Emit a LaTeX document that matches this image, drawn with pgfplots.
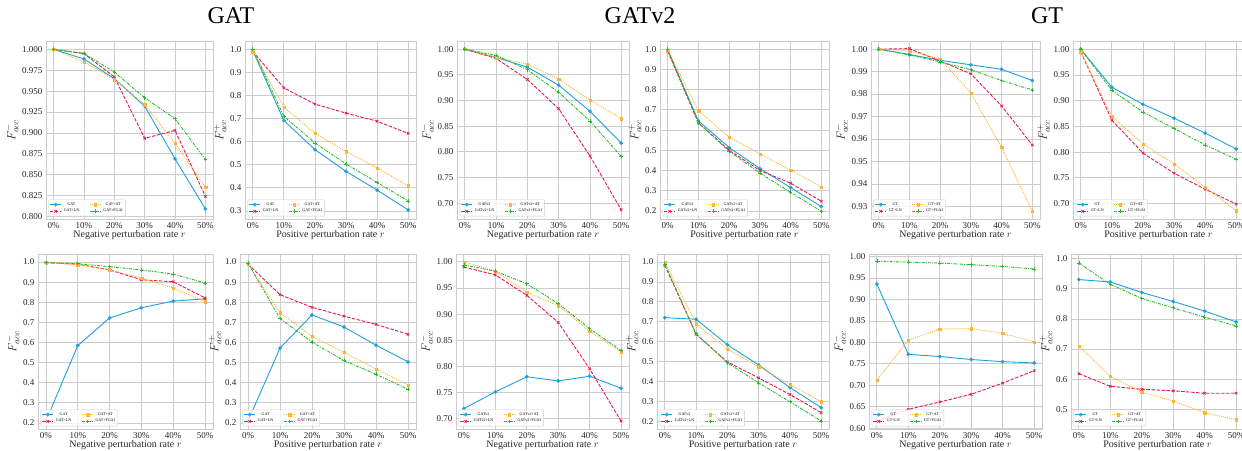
\documentclass[border=0pt]{standalone}
\usepackage{fontspec}
\setmainfont{Liberation Serif}
\usepackage{pgfplots}
\pgfplotsset{compat=1.18}
\definecolor{cblue}{HTML}{1F9FDF}
\definecolor{cred}{HTML}{E8184E}
\definecolor{corange}{HTML}{FDB432}
\definecolor{cgreen}{HTML}{2CB82C}
\definecolor{gridgray}{HTML}{CCCCCC}
\definecolor{labelgray}{HTML}{262626}
\pgfplotsset{
  base/.style={
    scale only axis, anchor=south west,
    height=178pt,
    xmin=-0.25, xmax=5.25,
    xtick={0,1,2,3,4,5},
    xticklabels={0\%,10\%,20\%,30\%,40\%,50\%},
    grid=major,
    major grid style={draw=gridgray, line width=0.8pt},
    axis line style={draw=gridgray, line width=0.8pt},
    major tick length=0pt,
    tick label style={font=\fontsize{9}{10}\selectfont, text=labelgray},
    /pgf/number format/assume math mode=true,
    scaled y ticks=false,
    yticklabel style={/pgf/number format/fixed, /pgf/number format/fixed zerofill},
    ylabel style={font=\fontsize{13}{13}\selectfont, text=labelgray, yshift=-3pt},
    xlabel style={font=\fontsize{10}{11}\selectfont, text=labelgray, yshift=5pt},
    legend style={at={(0.015,0.015)}, anchor=south west, font=\fontsize{4}{4.5}\selectfont,
      draw=gridgray, fill=white, fill opacity=0.8, text opacity=1, rounded corners=1pt,
      inner sep=0.8pt, row sep=-1.5pt, /tikz/every even column/.append style={column sep=8pt}},
    transpose legend,
    legend columns=2,
    legend image code/.code={\draw[mark repeat=2,mark phase=2] plot coordinates {(0cm,0cm) (0.2cm,0cm) (0.4cm,0cm)};},
  },
  sA/.style={color=cblue, solid, line width=0.9pt, mark=*, mark size=1.8pt, mark options={solid, fill=cblue, draw=cblue, line width=0.2pt}},
  sB/.style={color=cred, line width=0.9pt, dash pattern=on 3.5pt off 1.5pt, mark=x, mark size=1.8pt, mark options={solid, line width=0.7pt}},
  sC/.style={color=corange, line width=0.9pt, dash pattern=on 1pt off 1pt, mark=square*, mark size=1.2pt, mark options={solid, fill=corange, draw=corange, line width=0.2pt}},
  sD/.style={color=cgreen, line width=0.9pt, dash pattern=on 3pt off 1.2pt on 1pt off 1.2pt, mark=+, mark size=1.8pt, mark options={solid, line width=0.7pt}},
}
\begin{document}
\begin{tikzpicture}
\useasboundingbox (0,0) rectangle (1242pt,450pt);
\node[font=\fontsize{24}{26}\selectfont, text=black] at (231pt,434pt) {GAT};
\node[font=\fontsize{24}{26}\selectfont, text=black] at (640pt,434pt) {GATv2};
\node[font=\fontsize{24}{26}\selectfont, text=black] at (1047pt,434pt) {GT};

% ---------- Row 1 ----------
\begin{axis}[base, at={(46pt,231pt)}, width=167pt, ymin=0.797, ymax=1.010,
  ytick={0.8,0.825,0.85,0.875,0.9,0.925,0.95,0.975,1.0}, yticklabel style={/pgf/number format/precision=3},
  ylabel={$F^{-}_{acc}$}, xlabel={Negative perturbation rate $r$}]
\addplot[sA] coordinates {(0,1.000) (1,0.9885) (2,0.965) (3,0.932) (4,0.869) (5,0.809)};
\addplot[sB] coordinates {(0,1.000) (1,0.995) (2,0.967) (3,0.8935) (4,0.903) (5,0.824)};
\addplot[sC] coordinates {(0,1.000) (1,0.985) (2,0.964) (3,0.934) (4,0.8875) (5,0.835)};
\addplot[sD] coordinates {(0,1.000) (1,0.995) (2,0.973) (3,0.942) (4,0.917) (5,0.868)};
\legend{GAT,GAT+LN,GAT+AT,GAT+FGAI}
\end{axis}

\begin{axis}[base, at={(245pt,231pt)}, width=171pt, ymin=0.265, ymax=1.035,
  ytick={0.3,0.4,0.5,0.6,0.7,0.8,0.9,1.0}, yticklabel style={/pgf/number format/precision=1},
  ylabel={$F^{+}_{acc}$}, xlabel={Positive perturbation rate $r$}]
\addplot[sA] coordinates {(0,0.993) (1,0.691) (2,0.565) (3,0.471) (4,0.390) (5,0.304)};
\addplot[sB] coordinates {(0,0.990) (1,0.832) (2,0.762) (3,0.723) (4,0.688) (5,0.635)};
\addplot[sC] coordinates {(0,0.990) (1,0.749) (2,0.636) (3,0.557) (4,0.486) (5,0.409)};
\addplot[sD] coordinates {(0,1.000) (1,0.709) (2,0.594) (3,0.503) (4,0.423) (5,0.343)};
\legend{GAT,GAT+LN,GAT+AT,GAT+FGAI}
\end{axis}

\begin{axis}[base, at={(457pt,231pt)}, width=172pt, ymin=0.669, ymax=1.016,
  ytick={0.70,0.75,0.80,0.85,0.90,0.95,1.00}, yticklabel style={/pgf/number format/precision=2},
  ylabel={$F^{-}_{acc}$}, xlabel={Negative perturbation rate $r$}]
\addplot[sA] coordinates {(0,1.000) (1,0.984) (2,0.965) (3,0.930) (4,0.879) (5,0.817)};
\addplot[sB] coordinates {(0,1.000) (1,0.982) (2,0.941) (3,0.884) (4,0.792) (5,0.687)};
\addplot[sC] coordinates {(0,1.000) (1,0.984) (2,0.971) (3,0.942) (4,0.901) (5,0.865)};
\addplot[sD] coordinates {(0,1.000) (1,0.988) (2,0.960) (3,0.916) (4,0.860) (5,0.791)};
\legend{GATv2,GATv2+LN,GATv2+AT,GATv2+FGAI}
\end{axis}

\begin{axis}[base, at={(660pt,231pt)}, width=169pt, ymin=0.16, ymax=1.04,
  ytick={0.2,0.3,0.4,0.5,0.6,0.7,0.8,0.9,1.0}, yticklabel style={/pgf/number format/precision=1},
  ylabel={$F^{+}_{acc}$}, xlabel={Positive perturbation rate $r$}]
\addplot[sA] coordinates {(0,0.995) (1,0.645) (2,0.513) (3,0.410) (4,0.315) (5,0.222)};
\addplot[sB] coordinates {(0,0.990) (1,0.635) (2,0.500) (3,0.400) (4,0.337) (5,0.248)};
\addplot[sC] coordinates {(0,0.995) (1,0.695) (2,0.565) (3,0.482) (4,0.403) (5,0.318)};
\addplot[sD] coordinates {(0,1.000) (1,0.635) (2,0.495) (3,0.387) (4,0.292) (5,0.198)};
\legend{GATv2,GATv2+LN,GATv2+AT,GATv2+FGAI}
\end{axis}

\begin{axis}[base, at={(871pt,231pt)}, width=169pt, ymin=0.9244, ymax=1.0036,
  ytick={0.93,0.94,0.95,0.96,0.97,0.98,0.99,1.00}, yticklabel style={/pgf/number format/precision=2},
  ylabel={$F^{-}_{acc}$}, xlabel={Negative perturbation rate $r$}]
\addplot[sA] coordinates {(0,1.000) (1,0.9976) (2,0.995) (3,0.993) (4,0.991) (5,0.986)};
\addplot[sB] coordinates {(0,1.000) (1,1.0002) (2,0.9947) (3,0.989) (4,0.9747) (5,0.9573)};
\addplot[sC] coordinates {(0,1.000) (1,0.9991) (2,0.9956) (3,0.9804) (4,0.9563) (5,0.9279)};
\addplot[sD] coordinates {(0,1.000) (1,0.9974) (2,0.9943) (3,0.9908) (4,0.986) (5,0.9818)};
\legend{GT,GT+LN,GT+AT,GT+FGAI}
\end{axis}

\begin{axis}[base, at={(1073pt,231pt)}, width=171pt, ymin=0.670, ymax=1.016,
  ytick={0.70,0.75,0.80,0.85,0.90,0.95,1.00}, yticklabel style={/pgf/number format/precision=2},
  ylabel={$F^{+}_{acc}$}, xlabel={Positive perturbation rate $r$}]
\addplot[sA] coordinates {(0,1.000) (1,0.926) (2,0.893) (3,0.866) (4,0.837) (5,0.806)};
\addplot[sB] coordinates {(0,0.995) (1,0.862) (2,0.798) (3,0.759) (4,0.728) (5,0.699)};
\addplot[sC] coordinates {(0,0.995) (1,0.869) (2,0.816) (3,0.777) (4,0.732) (5,0.686)};
\addplot[sD] coordinates {(0,1.000) (1,0.920) (2,0.878) (3,0.846) (4,0.814) (5,0.786)};
\legend{GT,GT+LN,GT+AT,GT+FGAI}
\end{axis}

% ---------- Row 2 ----------
\begin{axis}[base, at={(38pt,21pt)}, width=175pt, height=175pt, ymin=0.17, ymax=1.04,
  ytick={0.2,0.3,0.4,0.5,0.6,0.7,0.8,0.9,1.0}, yticklabel style={/pgf/number format/precision=1},
  ylabel={$F^{-}_{acc}$}, xlabel={Negative perturbation rate $r$}]
\addplot[sA] coordinates {(0,0.21) (1,0.585) (2,0.722) (3,0.773) (4,0.806) (5,0.817)};
\addplot[sB] coordinates {(0,0.997) (1,0.989) (2,0.961) (3,0.912) (4,0.902) (5,0.822)};
\addplot[sC] coordinates {(0,0.997) (1,0.987) (2,0.961) (3,0.920) (4,0.871) (5,0.804)};
\addplot[sD] coordinates {(0,0.997) (1,0.992) (2,0.977) (3,0.961) (4,0.940) (5,0.896)};
\legend{GAT,GAT+LN,GAT+AT,GAT+FGAI}
\end{axis}

\begin{axis}[base, at={(240pt,21pt)}, width=176pt, height=175pt, ymin=0.17, ymax=1.04,
  ytick={0.2,0.3,0.4,0.5,0.6,0.7,0.8,0.9,1.0}, yticklabel style={/pgf/number format/precision=1},
  ylabel={$F^{+}_{acc}$}, xlabel={Positive perturbation rate $r$}]
\addplot[sA] coordinates {(0,0.21) (1,0.572) (2,0.737) (3,0.677) (4,0.587) (5,0.504)};
\addplot[sB] coordinates {(0,0.990) (1,0.838) (2,0.775) (3,0.731) (4,0.690) (5,0.641)};
\addplot[sC] coordinates {(0,0.990) (1,0.749) (2,0.631) (3,0.551) (4,0.469) (5,0.389)};
\addplot[sD] coordinates {(0,0.995) (1,0.719) (2,0.602) (3,0.510) (4,0.442) (5,0.368)};
\legend{GAT,GAT+LN,GAT+AT,GAT+FGAI}
\end{axis}

\begin{axis}[base, at={(456pt,21pt)}, width=173pt, height=175pt, ymin=0.68, ymax=1.015,
  ytick={0.70,0.75,0.80,0.85,0.90,0.95,1.00}, yticklabel style={/pgf/number format/precision=2},
  ylabel={$F^{-}_{acc}$}, xlabel={Negative perturbation rate $r$}]
\addplot[sA] coordinates {(0,0.719) (1,0.751) (2,0.780) (3,0.772) (4,0.781) (5,0.758)};
\addplot[sB] coordinates {(0,0.990) (1,0.975) (2,0.936) (3,0.884) (4,0.795) (5,0.695)};
\addplot[sC] coordinates {(0,1.000) (1,0.982) (2,0.942) (3,0.916) (4,0.867) (5,0.828)};
\addplot[sD] coordinates {(0,0.994) (1,0.982) (2,0.958) (3,0.920) (4,0.872) (5,0.830)};
\legend{GATv2,GATv2+LN,GATv2+AT,GATv2+FGAI}
\end{axis}

\begin{axis}[base, at={(657pt,21pt)}, width=172pt, height=175pt, ymin=0.163, ymax=1.04,
  ytick={0.2,0.3,0.4,0.5,0.6,0.7,0.8,0.9,1.0}, yticklabel style={/pgf/number format/precision=1},
  ylabel={$F^{+}_{acc}$}, xlabel={Positive perturbation rate $r$}]
\addplot[sA] coordinates {(0,0.721) (1,0.713) (2,0.585) (3,0.484) (4,0.371) (5,0.270)};
\addplot[sB] coordinates {(0,0.983) (1,0.638) (2,0.499) (3,0.419) (4,0.336) (5,0.245)};
\addplot[sC] coordinates {(0,1.000) (1,0.691) (2,0.563) (3,0.476) (4,0.386) (5,0.300)};
\addplot[sD] coordinates {(0,0.990) (1,0.640) (2,0.495) (3,0.394) (4,0.300) (5,0.203)};
\legend{GATv2,GATv2+LN,GATv2+AT,GATv2+FGAI}
\end{axis}

\begin{axis}[base, at={(869pt,21pt)}, width=173pt, height=175pt, ymin=0.598, ymax=1.006,
  ytick={0.60,0.65,0.70,0.75,0.80,0.85,0.90,0.95,1.00}, yticklabel style={/pgf/number format/precision=2},
  ylabel={$F^{-}_{acc}$}, xlabel={Negative perturbation rate $r$}]
\addplot[sA] coordinates {(0,0.936) (1,0.772) (2,0.767) (3,0.760) (4,0.755) (5,0.752)};
\addplot[sB] coordinates {(0,0.617) (1,0.644) (2,0.661) (3,0.679) (4,0.705) (5,0.734)};
\addplot[sC] coordinates {(0,0.712) (1,0.805) (2,0.831) (3,0.832) (4,0.821) (5,0.801)};
\addplot[sD] coordinates {(0,0.989) (1,0.987) (2,0.985) (3,0.981) (4,0.977) (5,0.971)};
\legend{GT,GT+LN,GT+AT,GT+FGAI}
\end{axis}

\begin{axis}[base, at={(1071pt,21pt)}, width=173pt, height=175pt, ymin=0.434, ymax=1.016,
  ytick={0.5,0.6,0.7,0.8,0.9,1.0}, yticklabel style={/pgf/number format/precision=1},
  ylabel={$F^{+}_{acc}$}, xlabel={Positive perturbation rate $r$}]
\addplot[sA] coordinates {(0,0.931) (1,0.923) (2,0.888) (3,0.858) (4,0.826) (5,0.790)};
\addplot[sB] coordinates {(0,0.618) (1,0.576) (2,0.566) (3,0.561) (4,0.553) (5,0.553)};
\addplot[sC] coordinates {(0,0.710) (1,0.609) (2,0.557) (3,0.527) (4,0.488) (5,0.465)};
\addplot[sD] coordinates {(0,0.986) (1,0.915) (2,0.868) (3,0.837) (4,0.806) (5,0.777)};
\legend{GT,GT+LN,GT+AT,GT+FGAI}
\end{axis}
\end{tikzpicture}
\end{document}
